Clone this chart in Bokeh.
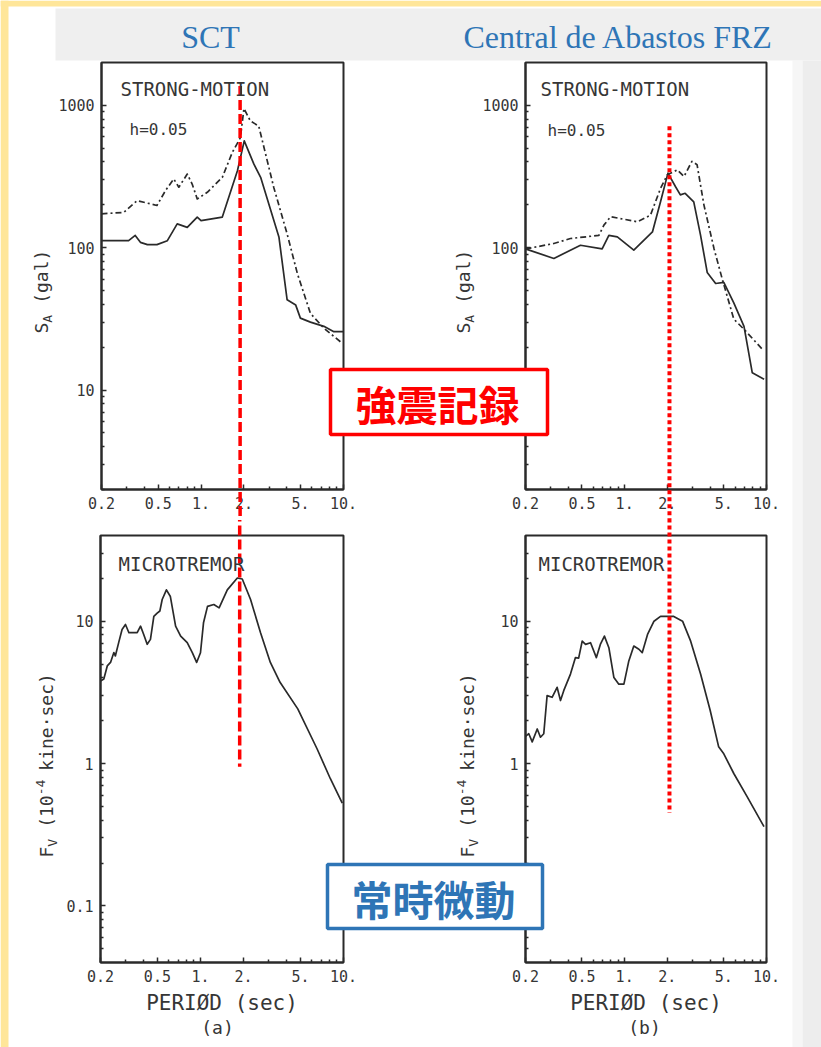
import math
from bokeh.plotting import figure
from bokeh.models import FixedTicker, Range1d, GridBox
from bokeh.layouts import row, column
from bokeh.core.properties import value
from bokeh.embed import file_html
from bokeh.resources import INLINE

# ---------------- data ----------------
period_ticks = [0.2, 0.5, 1, 2, 5, 10]
period_labels = ["0.2", "0.5", "1.", "2.", "5.", "10."]
period_minor = [0.3, 0.4, 0.6, 0.7, 0.8, 0.9, 3, 4, 6, 7, 8, 9]
sa_ticks = [10, 100, 1000]
sa_labels = ["10", "100", "1000"]
sa_minor = [2, 3, 4, 5, 6, 7, 8, 9, 20, 30, 40, 50, 60, 70, 80, 90,
            200, 300, 400, 500, 600, 700, 800, 900]
fv_ticks = [0.1, 1, 10]
fv_labels = ["0.1", "1", "10"]
fv_minor = [0.05, 0.06, 0.07, 0.08, 0.09, 0.2, 0.3, 0.4, 0.5, 0.6, 0.7, 0.8, 0.9,
            2, 3, 4, 5, 6, 7, 8, 9, 20, 30]

# SCT, strong motion (S_A, gal)
sct_sm_solid_T = [0.2, 0.31, 0.345, 0.375, 0.42, 0.49, 0.58, 0.68, 0.8, 0.94, 1.0,
                  1.41, 1.80, 2.01, 2.35, 2.62, 3.52, 4.02, 4.62, 4.98, 5.86, 7.28, 8.56, 10.0]
sct_sm_solid = [112, 112, 122, 109, 105, 105, 112, 147, 139, 164, 155,
                164, 347, 563, 386, 312, 119, 43, 39.5, 32, 30, 28, 25.7, 25.7]
sct_sm_dash_T = [0.2, 0.287, 0.356, 0.49, 0.563, 0.643, 0.698, 0.8, 0.866, 0.94, 1.106,
                 1.41, 1.656, 1.89, 2.0, 2.22, 2.54, 3.24, 4.02, 4.74, 5.86, 7.28, 9.8]
sct_sm_dash = [173, 177, 214, 198, 252, 304, 266, 329, 280, 220, 245,
               312, 466, 594, 950, 776, 716, 265, 125, 66, 34.5, 27.2, 21.3]

# Central de Abastos FRZ, strong motion (S_A, gal)
frz_sm_solid_T = [0.2, 0.317, 0.488, 0.694, 0.774, 0.888, 1.16, 1.57, 1.79, 2.02, 2.28,
                  2.47, 2.67, 3.07, 3.43, 3.82, 4.38, 5.0, 5.88, 6.94, 7.94, 9.62]
frz_sm_solid = [98, 84, 104, 98, 122, 119, 96, 129, 210, 334, 269,
                235, 241, 210, 122, 67, 56, 57, 41, 28, 13.2, 11.9]
frz_sm_dash_T = [0.2, 0.317, 0.415, 0.658, 0.714, 0.796, 1.23, 1.52, 1.79, 2.0, 2.35,
                 2.62, 2.98, 3.24, 3.62, 4.27, 4.88, 5.88, 6.94, 9.37]
frz_sm_dash = [98, 107, 116, 122, 144, 165, 152, 169, 261, 325, 352,
               316, 404, 383, 200, 98, 60, 31.5, 26.7, 19.3]

# SCT, microtremor (F_V, 1e-4 kine*sec)
sct_mt_T = [0.2, 0.211, 0.223, 0.235, 0.248, 0.254, 0.268, 0.283, 0.299, 0.316, 0.361,
            0.381, 0.401, 0.424, 0.447, 0.472, 0.498, 0.52, 0.54, 0.578, 0.616, 0.67,
            0.727, 0.808, 0.877, 0.94, 1.0, 1.05, 1.12, 1.24, 1.35, 1.54, 1.81, 1.96,
            2.24, 2.63, 3.08, 3.6, 4.79, 6.53, 8.08, 9.8]
sct_mt = [3.8, 3.92, 4.85, 5.13, 6.02, 5.7, 7.07, 8.75, 9.48, 8.3, 8.3,
          9.23, 8.07, 6.88, 7.45, 10.8, 11.4, 11.8, 14.2, 16.6, 14.9, 9.23,
          7.86, 7.07, 6.01, 5.13, 6.0, 9.74, 12.7, 13.1, 12.4, 16.6, 20.1, 19.8,
          14.2, 8.3, 5.13, 3.72, 2.42, 1.27, 0.785, 0.526]

# Central de Abastos FRZ, microtremor
frz_mt_T = [0.2, 0.211, 0.223, 0.242, 0.255, 0.269, 0.284, 0.308, 0.334, 0.353, 0.372,
            0.415, 0.45, 0.474, 0.502, 0.53, 0.575, 0.632, 0.674, 0.72, 0.774, 0.84,
            0.91, 0.988, 1.07, 1.16, 1.26, 1.33, 1.45, 1.61, 1.79, 2.22, 2.56, 2.92,
            3.43, 4.01, 4.6, 5.0, 5.88, 7.3, 9.6]
frz_mt = [1.55, 1.62, 1.42, 1.75, 1.53, 1.62, 3.0, 2.92, 3.43, 2.77, 3.25,
          4.25, 5.55, 5.5, 7.24, 6.87, 7.06, 5.55, 6.87, 7.86, 6.51, 4.02,
          3.61, 3.61, 5.26, 6.69, 6.35, 6.01, 8.07, 10.0, 10.8, 10.8, 10.0, 7.24,
          4.25, 2.36, 1.31, 1.17, 0.851, 0.585, 0.36]

# predominant periods marked by the red lines
sct_period = 1.88
frz_period = 2.07

# ---------------- styles ----------------
INK = "#2a2a2a"
GRAY = "#363636"
BLUE = "#2E75B6"
RED = "#FF0000"
YELLOW = "#FFE699"
MONO = "DejaVu Sans Mono"
PAGE_W, PAGE_H = 821, 1047


def make_panel(w, h, borders, y_start, y_end, yticks, ylabels, yminor, xlabel=None):
    l, r, t, b = borders
    p = figure(width=w, height=h, x_axis_type="log", y_axis_type="log",
               x_range=Range1d(0.2, 10), y_range=Range1d(y_start, y_end),
               output_backend="svg", toolbar_location=None,
               min_border_left=l, min_border_right=r,
               min_border_top=t, min_border_bottom=b)
    p.border_fill_color = "white"
    p.background_fill_color = "white"
    p.outline_line_color = INK
    p.outline_line_width = 2
    p.grid.visible = False
    xa = p.xaxis[0]
    ya = p.yaxis[0]
    xa.ticker = FixedTicker(ticks=period_ticks, minor_ticks=period_minor)
    xa.major_label_overrides = dict(zip(period_ticks, period_labels))
    ya.ticker = FixedTicker(ticks=yticks, minor_ticks=yminor)
    ya.major_label_overrides = dict(zip(yticks, ylabels))
    for ax in (xa, ya):
        ax.axis_line_color = INK
        ax.axis_line_width = 2
        ax.major_tick_in = 5
        ax.major_tick_out = 0
        ax.minor_tick_in = 3
        ax.minor_tick_out = 0
        ax.major_tick_line_color = INK
        ax.minor_tick_line_color = INK
        ax.major_tick_line_width = 1.5
        ax.minor_tick_line_width = 1.5
        ax.major_label_text_font = MONO
        ax.major_label_text_font_size = "15px"
        ax.major_label_text_color = GRAY
        ax.major_label_standoff = 7
    if xlabel:
        xa.axis_label = xlabel
        xa.axis_label_text_font = MONO
        xa.axis_label_text_font_size = "21px"
        xa.axis_label_text_font_style = "normal"
        xa.axis_label_text_color = GRAY
        xa.axis_label_standoff = 6
    return p


tl = make_panel(430, 520, (101, 87, 62, 31), 2, 2000, sa_ticks, sa_labels, sa_minor)
tr = make_panel(391, 520, (95, 55, 62, 31), 2, 2000, sa_ticks, sa_labels, sa_minor)
bl = make_panel(430, 527, (100, 87, 15, 84), 0.04, 40, fv_ticks, fv_labels, fv_minor,
                "PERIØD (sec)")
br = make_panel(391, 527, (95, 55, 15, 85), 0.04, 40, fv_ticks, fv_labels, fv_minor,
                "PERIØD (sec)")

CURVE = dict(line_color=INK, line_width=1.7, line_join="round")
tl.line(sct_sm_solid_T, sct_sm_solid, **CURVE)
tl.line(sct_sm_dash_T, sct_sm_dash, line_dash="6 3 2 3", **CURVE)
tr.line(frz_sm_solid_T, frz_sm_solid, **CURVE)
tr.line(frz_sm_dash_T, frz_sm_dash, line_dash="6 3 2 3", **CURVE)
bl.line(sct_mt_T, sct_mt, **CURVE)
br.line(frz_mt_T, frz_mt, **CURVE)

# red marker lines through both panels of a column (unclipped overlay level)
tl.line([sct_period, sct_period], [1365, 1e-6], line_color=RED, line_width=3.5,
        line_dash="10 4", level="overlay")
bl.line([sct_period, sct_period], [1e6, 0.95], line_color=RED, line_width=3.5,
        line_dash="10 4", level="overlay")
tr.line([frz_period, frz_period], [714, 1e-6], line_color=RED, line_width=4,
        line_dash="4 3", level="overlay")
br.line([frz_period, frz_period], [1e6, 0.45], line_color=RED, line_width=4,
        line_dash="4 3", level="overlay")

# ---------------- page overlay (page pixel coordinates) ----------------
ov = figure(width=PAGE_W, height=PAGE_H, x_range=Range1d(0, PAGE_W),
            y_range=Range1d(PAGE_H, 0),
            output_backend="svg", toolbar_location=None,
            x_axis_location=None, y_axis_location=None, min_border=0)
ov.background_fill_color = None
ov.border_fill_color = None
ov.outline_line_color = None
ov.grid.visible = False

# slide frame (yellow) and scanned-page edge
ov.quad(left=[0, 0], right=[PAGE_W, 8], top=[0, 0], bottom=[6, PAGE_H],
        fill_color=YELLOW, line_color=None)
ov.quad(left=[792, 802], right=[802, PAGE_W], top=[60, 60], bottom=[PAGE_H, PAGE_H],
        fill_color=["#F6F6F6", "#EDEDED"], line_color=None)

# header band
ov.quad(left=55, right=PAGE_W, top=8, bottom=60, fill_color="#EFEFEF", line_color=None)
ov.text(x=[210, 618], y=[36, 36], text=["SCT", "Central de Abastos FRZ"],
        text_font=value("Liberation Serif"), text_font_size="32px", text_color=BLUE,
        text_align="center", text_baseline="middle")

# panel captions
ov.text(x=[120, 540, 118, 538], y=[88, 88, 563, 563],
        text=["STRONG-MOTION", "STRONG-MOTION", "MICROTREMOR", "MICROTREMOR"],
        text_font=value(MONO), text_font_size="19px", text_color=GRAY,
        text_align="left", text_baseline="alphabetic")
ov.text(x=[129, 547], y=[129, 130], text=["h=0.05", "h=0.05"],
        text_font=value(MONO), text_font_size="16px", text_color=GRAY,
        text_align="left", text_baseline="alphabetic")
ov.text(x=[217, 644], y=[1027, 1027], text=["(a)", "(b)"],
        text_font=value(MONO), text_font_size="18px", text_color=GRAY,
        text_align="center", text_baseline="middle")


def vlabel(x0, y0, parts):
    """rotated label built from pieces: (text, size, sideways shift, gap before in px)"""
    y = y0
    for txt, size, shift, gap in parts:
        y -= gap
        ov.text(x=[x0 + shift], y=[y], text=[txt], angle=math.pi / 2,
                text_font=value(MONO), text_font_size=f"{size}px", text_color=GRAY,
                text_align="left", text_baseline="middle")
        y -= 0.602 * size * len(txt)


SA_PARTS = [("S", 18, 0, 0), ("A", 13, 6, 0), ("(gal)", 18, 0, 11)]
FV_PARTS = [("F", 18, 0, 0), ("V", 13, 6, 0), ("(10", 18, 0, 11), ("-4", 13, -6, 0),
            ("kine·sec)", 18, 0, 9)]
vlabel(41, 333, SA_PARTS)
vlabel(463, 333, SA_PARTS)
vlabel(46, 857, FV_PARTS)
vlabel(467, 857, FV_PARTS)

# highlighted captions
ov.rect(x=[438.5], y=[401.5], width=[217], height=[65], fill_color="white",
        line_color=RED, line_width=3.5)
ov.text(x=[437], y=[402], text=["強震記録"], text_font=value("Noto Sans CJK JP"),
        text_font_style="bold", text_font_size="41px", text_color=RED,
        text_align="center", text_baseline="middle")
ov.rect(x=[434.5], y=[896], width=[215], height=[64], fill_color="white",
        line_color=BLUE, line_width=3.5)
ov.text(x=[433], y=[897], text=["常時微動"], text_font=value("Noto Sans CJK JP"),
        text_font_style="bold", text_font_size="41px", text_color=BLUE,
        text_align="center", text_baseline="middle")

panels = column(row(tl, tr, spacing=0), row(bl, br, spacing=0), spacing=0)
layout = GridBox(children=[(panels, 0, 0), (ov, 0, 0)],
                 rows=[f"{PAGE_H}px"], cols=[f"{PAGE_W}px"], spacing=0)

html = file_html(layout, INLINE, title="SCT / Central de Abastos FRZ")
open("out.html", "w").write(html)
